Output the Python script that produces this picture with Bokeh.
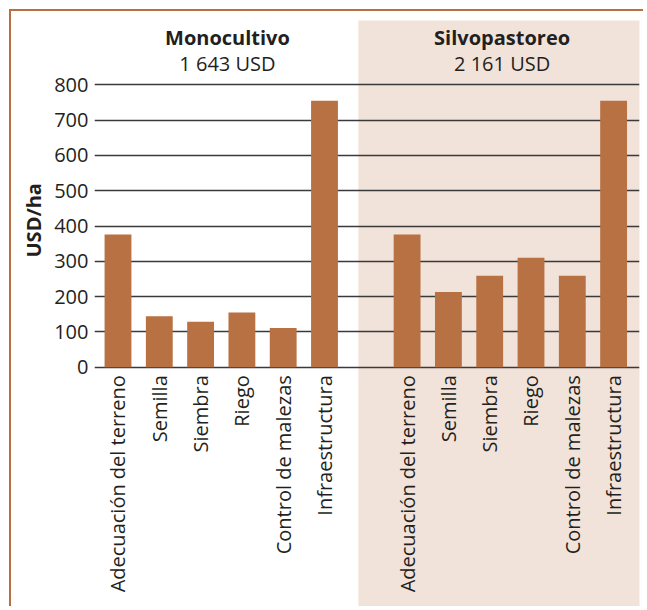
import math
from bokeh.plotting import figure
from bokeh.models import FixedTicker, Range1d, Title
from bokeh.core.properties import value
from bokeh.embed import file_html
from bokeh.resources import INLINE

# ---- data ----
categories = ["Adecuación del terreno", "Semilla", "Siembra", "Riego",
              "Control de malezas", "Infraestructura"]
mono = [376, 144, 129, 155, 111, 755]
silvo = [376, 213, 259, 310, 259, 755]
groups = ["Monocultivo", "Silvopastoreo"]
totals = ["1 643 USD", "2 161 USD"]
y_ticks = [0, 100, 200, 300, 400, 500, 600, 700, 800]
y_title = "USD/ha"

BAR = "#B87142"
PANEL = "#F2E3DA"
GRID = "#3a3a3a"
TXT = "#231F20"
FONT = "Open Sans"

mono_x = list(range(len(categories)))
silvo_x = [i + len(categories) + 1 for i in range(len(categories))]

p = figure(width=634, height=597, output_backend="svg", toolbar_location=None,
           x_range=Range1d(-0.569, 12.627), y_range=Range1d(-683.6, 982.2),
           min_border_left=83, min_border_right=6, min_border_top=9,
           min_border_bottom=0)
p.styles = {"margin-left": "9px", "margin-top": "9px",
            "border-left": "2px solid #B87042", "border-top": "2px solid #B87042"}
p.outline_line_color = None
p.background_fill_color = "white"
p.border_fill_color = "white"

# shaded panel for the second group
p.quad(left=[5.82], right=[14], bottom=[-2000], top=[2000],
       fill_color=PANEL, line_color=None, level="underlay")

p.vbar(x=mono_x, top=mono, width=0.65, bottom=0, fill_color=BAR, line_color=None)
p.vbar(x=silvo_x, top=silvo, width=0.65, bottom=0, fill_color=BAR, line_color=None)

# group titles
p.text(x=[2.65, 9.30], y=[934, 934], text=groups, text_font=value(FONT),
       text_font_style="bold", text_font_size="20px", text_align="center",
       text_baseline="alphabetic", text_color=TXT)
p.text(x=[2.65, 9.30], y=[861, 861], text=totals, text_font=value(FONT),
       text_font_size="20px", text_align="center",
       text_baseline="alphabetic", text_color=TXT)

# grid
p.xgrid.grid_line_color = None
p.ygrid.ticker = FixedTicker(ticks=y_ticks)
p.ygrid.grid_line_color = GRID
p.ygrid.grid_line_width = 1.3

# y axis
yax = p.yaxis[0]
yax.ticker = FixedTicker(ticks=y_ticks)
yax.axis_line_color = None
yax.major_tick_line_color = None
yax.minor_tick_line_color = None
yax.major_tick_out = 0
yax.major_tick_in = 0
yax.minor_tick_out = 0
yax.major_label_standoff = 6
yax.major_label_text_font = FONT
yax.major_label_text_font_size = "20px"
yax.major_label_text_color = TXT

# y-axis title, placed beside the 0-800 scale
p.add_layout(Title(text=y_title, align="left", offset=351, standoff=10,
                   text_font=FONT, text_font_style="bold",
                   text_font_size="20px", text_color=TXT), "left")

# x axis drawn at y = 0
xax = p.xaxis[0]
xax.fixed_location = 0
xax.ticker = FixedTicker(ticks=mono_x + silvo_x)
xax.major_label_overrides = {**{x: c for x, c in zip(mono_x, categories)},
                             **{x: c for x, c in zip(silvo_x, categories)}}
xax.major_label_orientation = math.pi / 2
xax.axis_line_color = None
xax.major_tick_line_color = None
xax.minor_tick_line_color = None
xax.major_tick_out = 0
xax.major_tick_in = 0
xax.minor_tick_out = 0
xax.major_label_standoff = 8
xax.major_label_text_font = FONT
xax.major_label_text_font_size = "20px"
xax.major_label_text_color = TXT

open("out.html", "w").write(file_html(p, INLINE))
